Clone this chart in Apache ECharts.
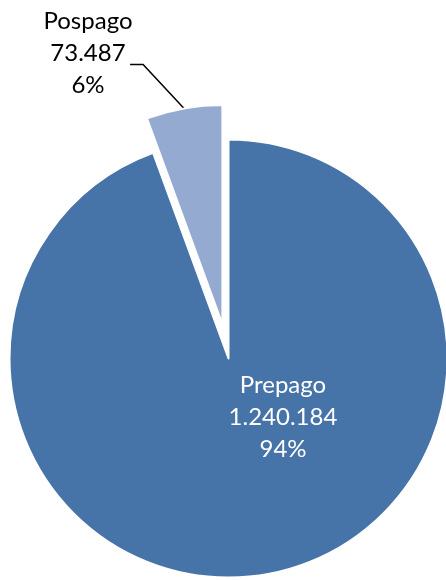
<!DOCTYPE html>
<html>
<head>
<meta charset="utf-8">
<script src="https://cdn.jsdelivr.net/npm/echarts@6/dist/echarts.min.js"></script>
<style>html,body{margin:0;padding:0;background:#fff;}#c{width:446px;height:580px;}</style>
</head>
<body>
<div id="c"></div>
<script>
const categories = ['Prepago', 'Pospago'];
const values = [1240184, 73487];
const colors = ['#4673A8', '#95AAD1'];

function fmt(n) { return String(n).replace(/\B(?=(\d{3})+(?!\d))/g, '.'); }

const CX = 228.5, CY = 358.5, R = 219, EXPLODE = 35;
const total = values.reduce((a, b) => a + b, 0);
// Pospago sits at the end of the clockwise sweep, just left of 12 o'clock
const midA = Math.PI * values[1] / total;
const cx2 = CX - EXPLODE * Math.sin(midA);
const cy2 = CY - EXPLODE * Math.cos(midA);

const fontBase = {fontFamily: 'Lato', fontSize: 24, lineHeight: 32, align: 'center'};
const labelFmt = p => p.name + '\n' + fmt(p.value) + '\n' + p.percent + '%';
const hidden = {color: 'rgba(0,0,0,0)', borderWidth: 0};

function makeSeries(visibleIdx, center) {
  return {
    type: 'pie',
    center: center,
    radius: R,
    startAngle: 90,
    clockwise: true,
    percentPrecision: 0,
    selectedMode: false,
    emphasis: {disabled: true},
    itemStyle: {borderColor: '#fff', borderWidth: 2},
    label: Object.assign({formatter: labelFmt}, fontBase),
    labelLine: {lineStyle: {color: '#000', width: 1.5}},
    labelLayout: function (p) {
      if (p.dataIndex !== visibleIdx) return {};
      if (visibleIdx === 0) {
        return {x: 283, y: 417, align: 'center', verticalAlign: 'middle'};
      }
      const s = p.labelLinePoints[0];
      const elbow = [s[0] - 41, s[1] - 44];
      const end = [elbow[0] - 13, elbow[1]];
      return {x: 88, y: 53, align: 'center', verticalAlign: 'middle',
              labelLinePoints: [s, elbow, end]};
    },
    data: categories.map((name, i) => {
      const vis = i === visibleIdx;
      return {
        name: name,
        value: values[i],
        itemStyle: vis ? {color: colors[i]} : hidden,
        label: vis
          ? (i === 0 ? {show: true, position: 'inside', color: '#fff'}
                     : {show: true, position: 'outside', color: '#000'})
          : {show: false},
        labelLine: {show: vis && i === 1, length: 40, length2: 13}
      };
    })
  };
}

const chart = echarts.init(document.getElementById('c'), null, {renderer: 'canvas'});
chart.setOption({
  animation: false,
  backgroundColor: '#fff',
  series: [makeSeries(0, [CX, CY]), makeSeries(1, [cx2, cy2])]
});
</script>
</body>
</html>
